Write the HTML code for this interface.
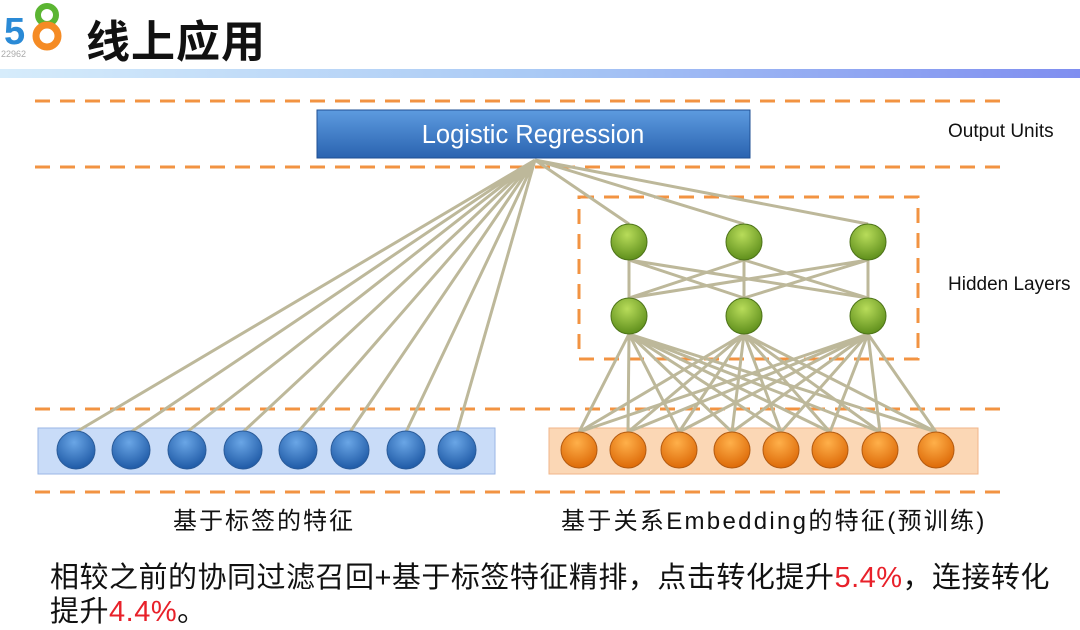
<!DOCTYPE html>
<html><head><meta charset="utf-8"><style>
body{margin:0;width:1080px;height:624px;background:#fff;overflow:hidden;font-family:"Liberation Sans","Noto Sans CJK SC",sans-serif;position:relative}
.t{position:absolute;white-space:nowrap;color:#111}
</style></head><body>
<svg width="1080" height="624" style="position:absolute;left:0;top:0">
<defs>
<linearGradient id="bar" x1="0" x2="1"><stop offset="0" stop-color="#d6ecfb"/><stop offset="0.5" stop-color="#a9c9f5"/><stop offset="1" stop-color="#7f8ef0"/></linearGradient>
<linearGradient id="lr" x1="0" y1="0" x2="0" y2="1"><stop offset="0" stop-color="#5d9be0"/><stop offset="1" stop-color="#2a63b0"/></linearGradient>
<radialGradient id="gb" cx="0.45" cy="0.3" r="0.7"><stop offset="0" stop-color="#6aa6e6"/><stop offset="1" stop-color="#1f5aa6"/></radialGradient>
<radialGradient id="gg" cx="0.45" cy="0.3" r="0.7"><stop offset="0" stop-color="#b8dc5a"/><stop offset="1" stop-color="#5f8f1c"/></radialGradient>
<radialGradient id="go" cx="0.45" cy="0.3" r="0.7"><stop offset="0" stop-color="#ffb04a"/><stop offset="1" stop-color="#dd6a08"/></radialGradient>
</defs>
<rect x="0" y="69" width="1080" height="9" fill="url(#bar)"/>
<g stroke="#f29342" stroke-width="3" stroke-dasharray="15 10" fill="none">
<line x1="35" y1="101" x2="1005" y2="101"/>
<line x1="35" y1="167" x2="1005" y2="167"/>
<line x1="35" y1="409" x2="1005" y2="409"/>
<line x1="35" y1="492" x2="1005" y2="492"/>
<rect x="579" y="197" width="339" height="162"/>
</g>
<rect x="38" y="428" width="457" height="46" fill="#c9dcf8" stroke="#9ab6e6"/>
<rect x="549" y="428" width="429" height="46" fill="#fbd7b5" stroke="#f0b58a"/>
<g stroke="#bdb89a" stroke-width="3" fill="none">
<path d="M535 160L76 432M535 160L131 432M535 160L187 432M535 160L243 432M535 160L298 432M535 160L350 432M535 160L406 432M535 160L457 432M535 160L629 224M535 160L744 224M535 160L868 224"/>
<path d="M629 260L629 298M744 260L744 298M868 260L868 298M629 260L744 298M629 260L868 298M744 260L629 298M744 260L868 298M868 260L629 298M868 260L744 298"/>
<path d="M629 334L579 432M629 334L628 432M629 334L679 432M629 334L732 432M629 334L781 432M629 334L830 432M629 334L880 432M629 334L936 432"/>
<path d="M744 334L579 432M744 334L628 432M744 334L679 432M744 334L732 432M744 334L781 432M744 334L830 432M744 334L880 432M744 334L936 432"/>
<path d="M868 334L579 432M868 334L628 432M868 334L679 432M868 334L732 432M868 334L781 432M868 334L830 432M868 334L880 432M868 334L936 432"/>
</g>
<rect x="317" y="110" width="433" height="48" fill="url(#lr)" stroke="#1f4f93"/>
<g fill="url(#gb)" stroke="#2a5b99">
<circle cx="76" cy="450" r="19"/><circle cx="131" cy="450" r="19"/><circle cx="187" cy="450" r="19"/><circle cx="243" cy="450" r="19"/><circle cx="298" cy="450" r="19"/><circle cx="350" cy="450" r="19"/><circle cx="406" cy="450" r="19"/><circle cx="457" cy="450" r="19"/>
</g>
<g fill="url(#go)" stroke="#b35a10">
<circle cx="579" cy="450" r="18"/><circle cx="628" cy="450" r="18"/><circle cx="679" cy="450" r="18"/><circle cx="732" cy="450" r="18"/><circle cx="781" cy="450" r="18"/><circle cx="830" cy="450" r="18"/><circle cx="880" cy="450" r="18"/><circle cx="936" cy="450" r="18"/>
</g>
<g fill="url(#gg)" stroke="#4d7318">
<circle cx="629" cy="242" r="18"/><circle cx="744" cy="242" r="18"/><circle cx="868" cy="242" r="18"/>
<circle cx="629" cy="316" r="18"/><circle cx="744" cy="316" r="18"/><circle cx="868" cy="316" r="18"/>
</g>
<text x="533" y="143" fill="#fff" font-size="25.5" text-anchor="middle" font-family="Liberation Sans, sans-serif">Logistic Regression</text>
<text x="948" y="137" font-size="19" fill="#111" font-family="Liberation Sans, sans-serif">Output Units</text>
<text x="948" y="290" font-size="19" fill="#111" font-family="Liberation Sans, sans-serif">Hidden Layers</text>
<text x="4" y="44" font-size="38" font-weight="bold" fill="#2a8ad6" font-family="Liberation Sans, sans-serif">5</text>
<circle cx="47" cy="15" r="9" fill="none" stroke="#5bb532" stroke-width="6"/>
<circle cx="47" cy="36" r="11" fill="none" stroke="#f58b24" stroke-width="7"/>
<text x="1" y="57" font-size="9" fill="#aaa">22962</text>
</svg>
<div class="t" style="left:86px;top:6px;font-size:44px;font-weight:bold;letter-spacing:1px">线上应用</div>
<div class="t" style="left:173px;top:501px;font-size:24px;letter-spacing:2px">基于标签的特征</div>
<div class="t" style="left:561px;top:501px;font-size:24px;letter-spacing:2.3px">基于关系Embedding的特征(预训练)</div>
<div class="t" style="left:50px;top:554px;font-size:29px;letter-spacing:0.5px">相较之前的协同过滤召回+基于标签特征精排，点击转化提升<span style="color:#e8212a">5.4%</span>，连接转化</div>
<div class="t" style="left:50px;top:588px;font-size:29px;letter-spacing:0.5px">提升<span style="color:#e8212a">4.4%</span>。</div>
</body></html>
